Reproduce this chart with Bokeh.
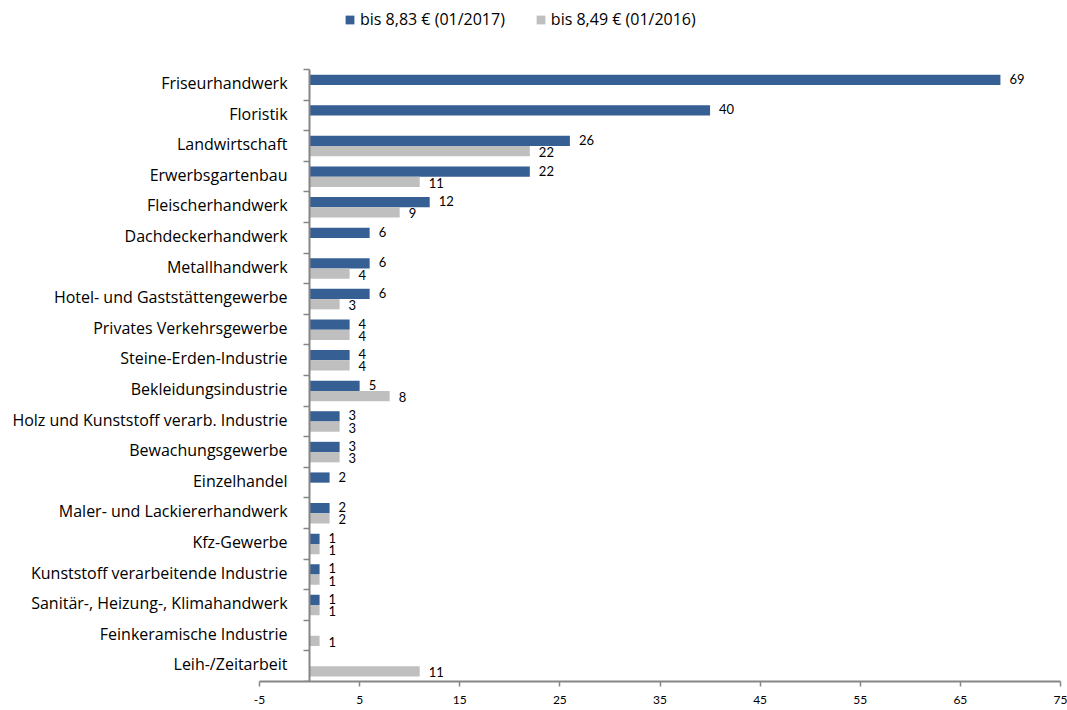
from bokeh.plotting import figure
from bokeh.models import Range1d, LinearAxis, FixedTicker, ColumnDataSource, Legend, LegendItem
from bokeh.core.properties import value
from bokeh.embed import file_html
from bokeh.resources import INLINE

categories = [
    "Friseurhandwerk", "Floristik", "Landwirtschaft", "Erwerbsgartenbau",
    "Fleischerhandwerk", "Dachdeckerhandwerk", "Metallhandwerk",
    "Hotel- und Gaststättengewerbe", "Privates Verkehrsgewerbe",
    "Steine-Erden-Industrie", "Bekleidungsindustrie",
    "Holz und Kunststoff verarb. Industrie", "Bewachungsgewerbe",
    "Einzelhandel", "Maler- und Lackiererhandwerk", "Kfz-Gewerbe",
    "Kunststoff verarbeitende Industrie", "Sanitär-, Heizung-, Klimahandwerk",
    "Feinkeramische Industrie", "Leih-/Zeitarbeit",
]
v2017 = [69, 40, 26, 22, 12, 6, 6, 6, 4, 4, 5, 3, 3, 2, 2, 1, 1, 1, None, None]
v2016 = [None, None, 22, 11, 9, None, 4, 3, 4, 4, 8, 3, 3, None, 2, 1, 1, 1, 1, 11]
series_names = ["bis 8,83 € (01/2017)", "bis 8,49 € (01/2016)"]
x_ticks = [-5, 5, 15, 25, 35, 45, 55, 65, 75]

BLUE = "#365F93"
GREY = "#BFBFBF"
AX = "#868686"
FONT = "Open Sans"
NUM_FONT = "Lato"

n = len(categories)
pos = [n - 1 - i for i in range(n)]

W, H = 1067, 710
frame_left_px, frame_right_px = 0, 1060
x_lo_px = 259                      # pixel where x = -5
px_per_unit = (frame_right_px - x_lo_px) / 80.0
x_start = -5 - (x_lo_px - frame_left_px) / px_per_unit

y_top_px, y_bot_px = 69, 681       # pixel span of the 20 categories
py_per_unit = (y_bot_px - y_top_px) / n
y_end = n - 0.5 + y_top_px / py_per_unit

p = figure(width=W, height=H, output_backend="svg", toolbar_location=None,
           x_range=Range1d(x_start, 75), y_range=Range1d(-0.5, y_end),
           y_axis_location=None,
           min_border_left=0, min_border_right=W - frame_right_px,
           min_border_top=0, min_border_bottom=H - y_bot_px)
p.outline_line_color = None
p.grid.visible = False


def make_src(vals, off):
    idx = [i for i, v in enumerate(vals) if v is not None]
    return ColumnDataSource(dict(
        y=[pos[i] + off for i in idx],
        right=[vals[i] for i in idx],
        label=[str(vals[i]) for i in idx],
    ))


src_b = make_src(v2017, 0.165)
src_g = make_src(v2016, -0.17)

r_b = p.hbar(y="y", left=0, right="right", height=0.335, source=src_b,
             fill_color=BLUE, line_color=None)
r_g = p.hbar(y="y", left=0, right="right", height=0.335, source=src_g,
             fill_color=GREY, line_color=None)

for src, dy in ((src_b, -1), (src_g, 1)):
    p.text(x="right", y="y", text="label", source=src, x_offset=9, y_offset=dy,
           text_baseline="middle", text_align="left", text_color="#000000",
           text_font=value(NUM_FONT), text_font_size="13px")

# x axis
xa = p.xaxis[0]
xa.ticker = FixedTicker(ticks=x_ticks)
xa.bounds = (-5, 75)
xa.major_label_overrides = {-5: "-5"}
xa.axis_line_color = AX
xa.axis_line_width = 2
xa.major_tick_line_color = AX
xa.major_tick_line_width = 1.5
xa.major_tick_in = 0
xa.major_tick_out = 5
xa.minor_tick_line_color = None
xa.major_label_standoff = 9
xa.major_label_text_font = NUM_FONT
xa.major_label_text_font_size = "12px"
xa.major_label_text_color = "#000000"

# category axis at x=0 with ticks between categories
bound_axis = LinearAxis(ticker=FixedTicker(ticks=[k - 0.5 for k in range(n + 1)]),
                        bounds=(-0.5, n - 0.5),
                        fixed_location=0, axis_line_color=AX, axis_line_width=2,
                        major_tick_line_color=AX, major_tick_line_width=1.5,
                        major_tick_in=0, major_tick_out=6,
                        minor_tick_line_color=None, major_label_text_color=None)
p.add_layout(bound_axis, "left")

label_pos = [q + 0.06 for q in pos]
label_axis = LinearAxis(ticker=FixedTicker(ticks=label_pos), fixed_location=0,
                        axis_line_color=None, major_tick_line_color=None,
                        minor_tick_line_color=None,
                        major_label_overrides={label_pos[i]: categories[i] for i in range(n)},
                        major_label_standoff=16,
                        major_label_text_font=FONT, major_label_text_font_size="16px",
                        major_label_text_color="#000000")
p.add_layout(label_axis, "left")

legend = Legend(items=[LegendItem(label=series_names[0], renderers=[r_b]),
                       LegendItem(label=series_names[1], renderers=[r_g])],
                location=(344, 651), orientation="horizontal",
                glyph_width=11, glyph_height=11, label_standoff=5, spacing=30,
                padding=0, margin=0, border_line_color=None, background_fill_alpha=0,
                label_text_font=FONT, label_text_font_size="16px",
                label_text_color="#000000")
p.add_layout(legend, "center")

open("out.html", "w").write(file_html(p, INLINE))
